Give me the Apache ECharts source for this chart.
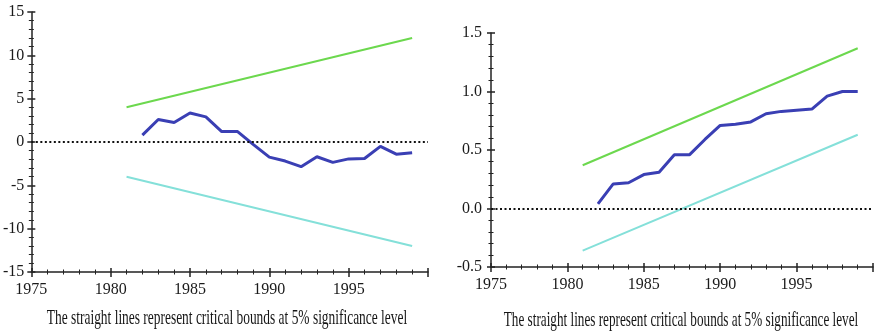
<!DOCTYPE html>
<html>
<head>
<meta charset="utf-8">
<script src="https://cdn.jsdelivr.net/npm/echarts@6/dist/echarts.min.js"></script>
<style>
html,body{margin:0;padding:0;background:#fff;}
#c{width:876px;height:334px;}
</style>
</head>
<body>
<div id="c"></div>
<script>
// ---- data ----
var years = [1982,1983,1984,1985,1986,1987,1988,1989,1990,1991,1992,1993,1994,1995,1996,1997,1998,1999];
var cusum = [0.8,2.6,2.25,3.35,2.9,1.2,1.2,-0.3,-1.75,-2.2,-2.85,-1.7,-2.35,-1.95,-1.9,-0.5,-1.4,-1.25];
var cusumsq = [0.04,0.21,0.22,0.29,0.31,0.46,0.46,0.59,0.71,0.72,0.74,0.81,0.83,0.84,0.85,0.96,1.0,1.0];
var boundYears = [1981,1999];
var cusumUpper = [4,12];
var cusumLower = [-4,-12];
var sqUpper = [0.37,1.37];
var sqLower = [-0.36,0.63];
var xTickLabels = [1975,1980,1985,1990,1995];
var caption = 'The straight lines represent critical bounds at 5% significance level';

function pairs(xs, ys){ return xs.map(function(x,i){ return [x, ys[i]]; }); }

var FONT = '"Liberation Serif","Times New Roman",serif';
var AX = '#222';

function xAxes(grid){
  return [
    {type:'value', gridIndex:grid, min:1975, max:2000, interval:5,
     axisLine:{show:true,onZero:false,lineStyle:{color:AX,width:1.5}},
     axisTick:{show:true,inside:false,length:5,lineStyle:{color:AX,width:1.5}},
     minorTick:{show:true,splitNumber:5,length:2.5,lineStyle:{color:AX,width:1}},
     splitLine:{show:false},
     axisLabel:{margin:10,fontFamily:FONT,fontSize:16,color:'#1a1a1a',
       formatter:function(v){ return xTickLabels.indexOf(v)>=0 ? String(v) : ''; }}},
    {type:'value', gridIndex:grid, min:1975, max:2000, interval:5, position:'bottom',
     axisLine:{show:false,onZero:false},
     axisTick:{show:true,inside:true,length:4,lineStyle:{color:AX,width:1.5}},
     minorTick:{show:true,splitNumber:5,length:2.5,lineStyle:{color:AX,width:1}},
     splitLine:{show:false}, axisLabel:{show:false}}
  ];
}
function yAxes(grid,min,max,interval,fmt,margin){
  return [
    {type:'value', gridIndex:grid, min:min, max:max, interval:interval,
     axisLine:{show:true,onZero:false,lineStyle:{color:AX,width:1.5}},
     axisTick:{show:true,inside:false,length:4,lineStyle:{color:AX,width:1.5}},
     minorTick:{show:true,splitNumber:5,length:2.5,lineStyle:{color:AX,width:1}},
     splitLine:{show:false},
     axisLabel:{margin:margin,fontFamily:FONT,fontSize:16,color:'#1a1a1a',formatter:fmt}},
    {type:'value', gridIndex:grid, min:min, max:max, interval:interval, position:'left',
     axisLine:{show:false,onZero:false},
     axisTick:{show:true,inside:true,length:4,lineStyle:{color:AX,width:1.5}},
     minorTick:{show:true,splitNumber:5,length:2.5,lineStyle:{color:AX,width:1}},
     splitLine:{show:false}, axisLabel:{show:false}}
  ];
}

var BLUE = '#3a3fb4', GREEN = '#6cd84e', CYAN = '#84e0d9';
function line(xi, yi, data, color, width, z, mark){
  var s = {type:'line', xAxisIndex:xi, yAxisIndex:yi, data:data, showSymbol:false, symbol:'none',
    lineStyle:{color:color,width:width}, z:z, animation:false, silent:true};
  if(mark){
    s.markLine = {symbol:'none', silent:true, label:{show:false}, animation:false,
      lineStyle:{color:'#111',type:[2,2.5],width:2}, data:[{yAxis:0}]};
  }
  return s;
}

var chart = echarts.init(document.getElementById('c'));
chart.setOption({
  animation:false,
  backgroundColor:'#fff',
  grid:[
    {left:31, right:448, top:12, bottom:62},
    {left:491, right:1, top:33, bottom:67}
  ],
  xAxis: xAxes(0).concat(xAxes(1)),
  yAxis: yAxes(0,-15,15,5,function(v){return String(v);},7)
    .concat(yAxes(1,-0.5,1.5,0.5,function(v){return v.toFixed(1);},9)),
  series:[
    line(0,0,pairs(boundYears,cusumUpper),GREEN,2,3),
    line(0,0,pairs(boundYears,cusumLower),CYAN,2,3),
    line(0,0,pairs(years,cusum),BLUE,3,4,true),
    line(2,2,pairs(boundYears,sqUpper),GREEN,2,3),
    line(2,2,pairs(boundYears,sqLower),CYAN,2,3),
    line(2,2,pairs(years,cusumsq),BLUE,3,4,true)
  ],
  graphic:[
    {type:'text', x:227, y:318, scaleX:0.61, style:{text:caption, fontFamily:FONT, fontSize:22,
      fill:'#151515', align:'center', verticalAlign:'middle'}},
    {type:'text', x:681, y:320, scaleX:0.6, style:{text:caption, fontFamily:FONT, fontSize:22,
      fill:'#151515', align:'center', verticalAlign:'middle'}}
  ]
});
</script>
</body>
</html>
